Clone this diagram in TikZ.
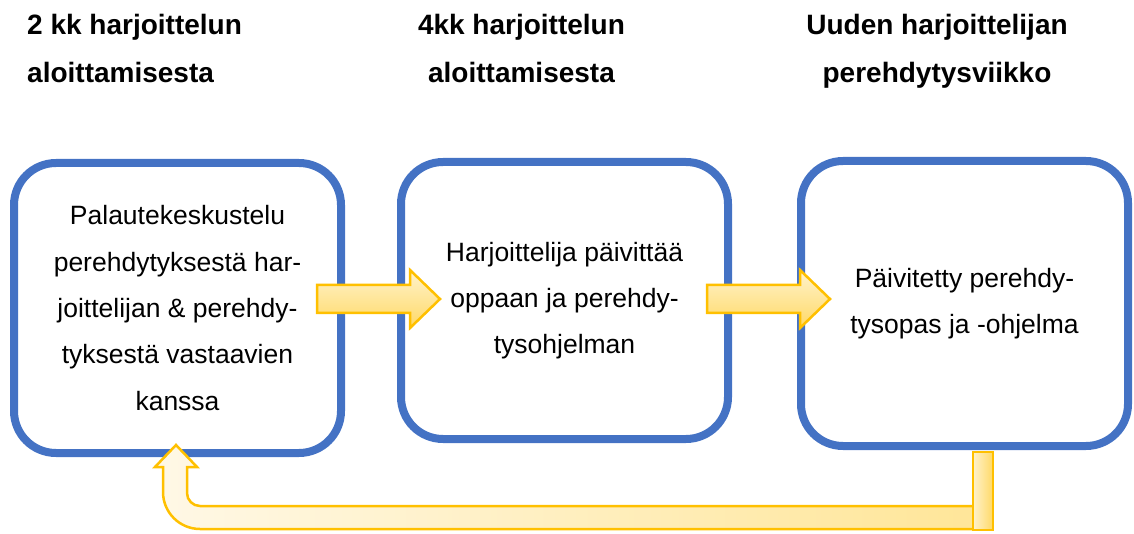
\documentclass[tikz,border=0pt]{standalone}
\usepackage{fontspec}
\setmainfont{Liberation Sans}
\definecolor{boxblue}{HTML}{4472C4}
\definecolor{arrowedge}{HTML}{FFC000}
\definecolor{arrowlight}{HTML}{FFF2CC}
\definecolor{arrowmid}{HTML}{FFE699}
\definecolor{arrowdark}{HTML}{FFD966}
\definecolor{palelight}{HTML}{FFF8E6}
\tikzset{
  stagebox/.style={draw=boxblue, line width=8pt, rounded corners=42pt, fill=white,
    align=center, inner sep=0pt, font=\fontsize{26.5}{46.3}\selectfont},
  header/.style={font=\bfseries\fontsize{28}{48}\selectfont, inner sep=0pt},
  blockarrow/.style={draw=arrowedge, line width=2.5pt, line join=miter,
    top color=arrowlight, bottom color=arrowdark, middle color=arrowmid},
  loopbar/.style={draw=arrowedge, line width=2.5pt, left color=arrowlight, right color=arrowdark},
  looparrow/.style={draw=arrowedge, line width=2.5pt, left color=palelight, right color=arrowmid}
}
\begin{document}
\begin{tikzpicture}[x=1pt,y=1pt]
\useasboundingbox (0,0) rectangle (1134,533);
% headers
\node[header, align=left, anchor=base west] (h1) at (27,450) {2 kk harjoittelun\\aloittamisesta};
\node[header, align=center, anchor=base] (h2) at (521.5,450) {4kk harjoittelun\\aloittamisesta};
\node[header, align=center, anchor=base] (h3) at (937,450) {Uuden harjoittelijan\\perehdytysviikko};
% boxes
\node[stagebox, minimum width=327pt, minimum height=290pt] (b1) at (177.5,225)
  {Palautekeskustelu\\perehdytyksestä har-\\joittelijan \& perehdy-\\tyksestä vastaavien\\kanssa};
\node[stagebox, minimum width=327pt, minimum height=277pt] (b2) at (564.5,232.5)
  {Harjoittelija päivittää\\oppaan ja perehdy-\\tysohjelman};
\node[stagebox, minimum width=327pt, minimum height=285pt] (b3) at (964.5,229.5)
  {Päivitetty perehdy-\\tysopas ja -ohjelma};
% forward arrows
\path[blockarrow] (317,220) -- (410,220) -- (410,205) -- (440,234) -- (410,263) -- (410,248) -- (317,248) -- cycle;
\path[blockarrow] (707,220) -- (800,220) -- (800,205) -- (830,234) -- (800,263) -- (800,248) -- (707,248) -- cycle;
% feedback arrow
\path[looparrow] (176,88) -- (197,66) -- (187,66) -- (187,40)
  arc[start angle=180, end angle=270, radius=13pt] -- (975,27) -- (975,4) -- (200,4)
  arc[start angle=270, end angle=180, radius=37pt] -- (163,66) -- (155,66) -- cycle;
\path[loopbar] (973,3) rectangle (993,81);
\end{tikzpicture}
\end{document}
